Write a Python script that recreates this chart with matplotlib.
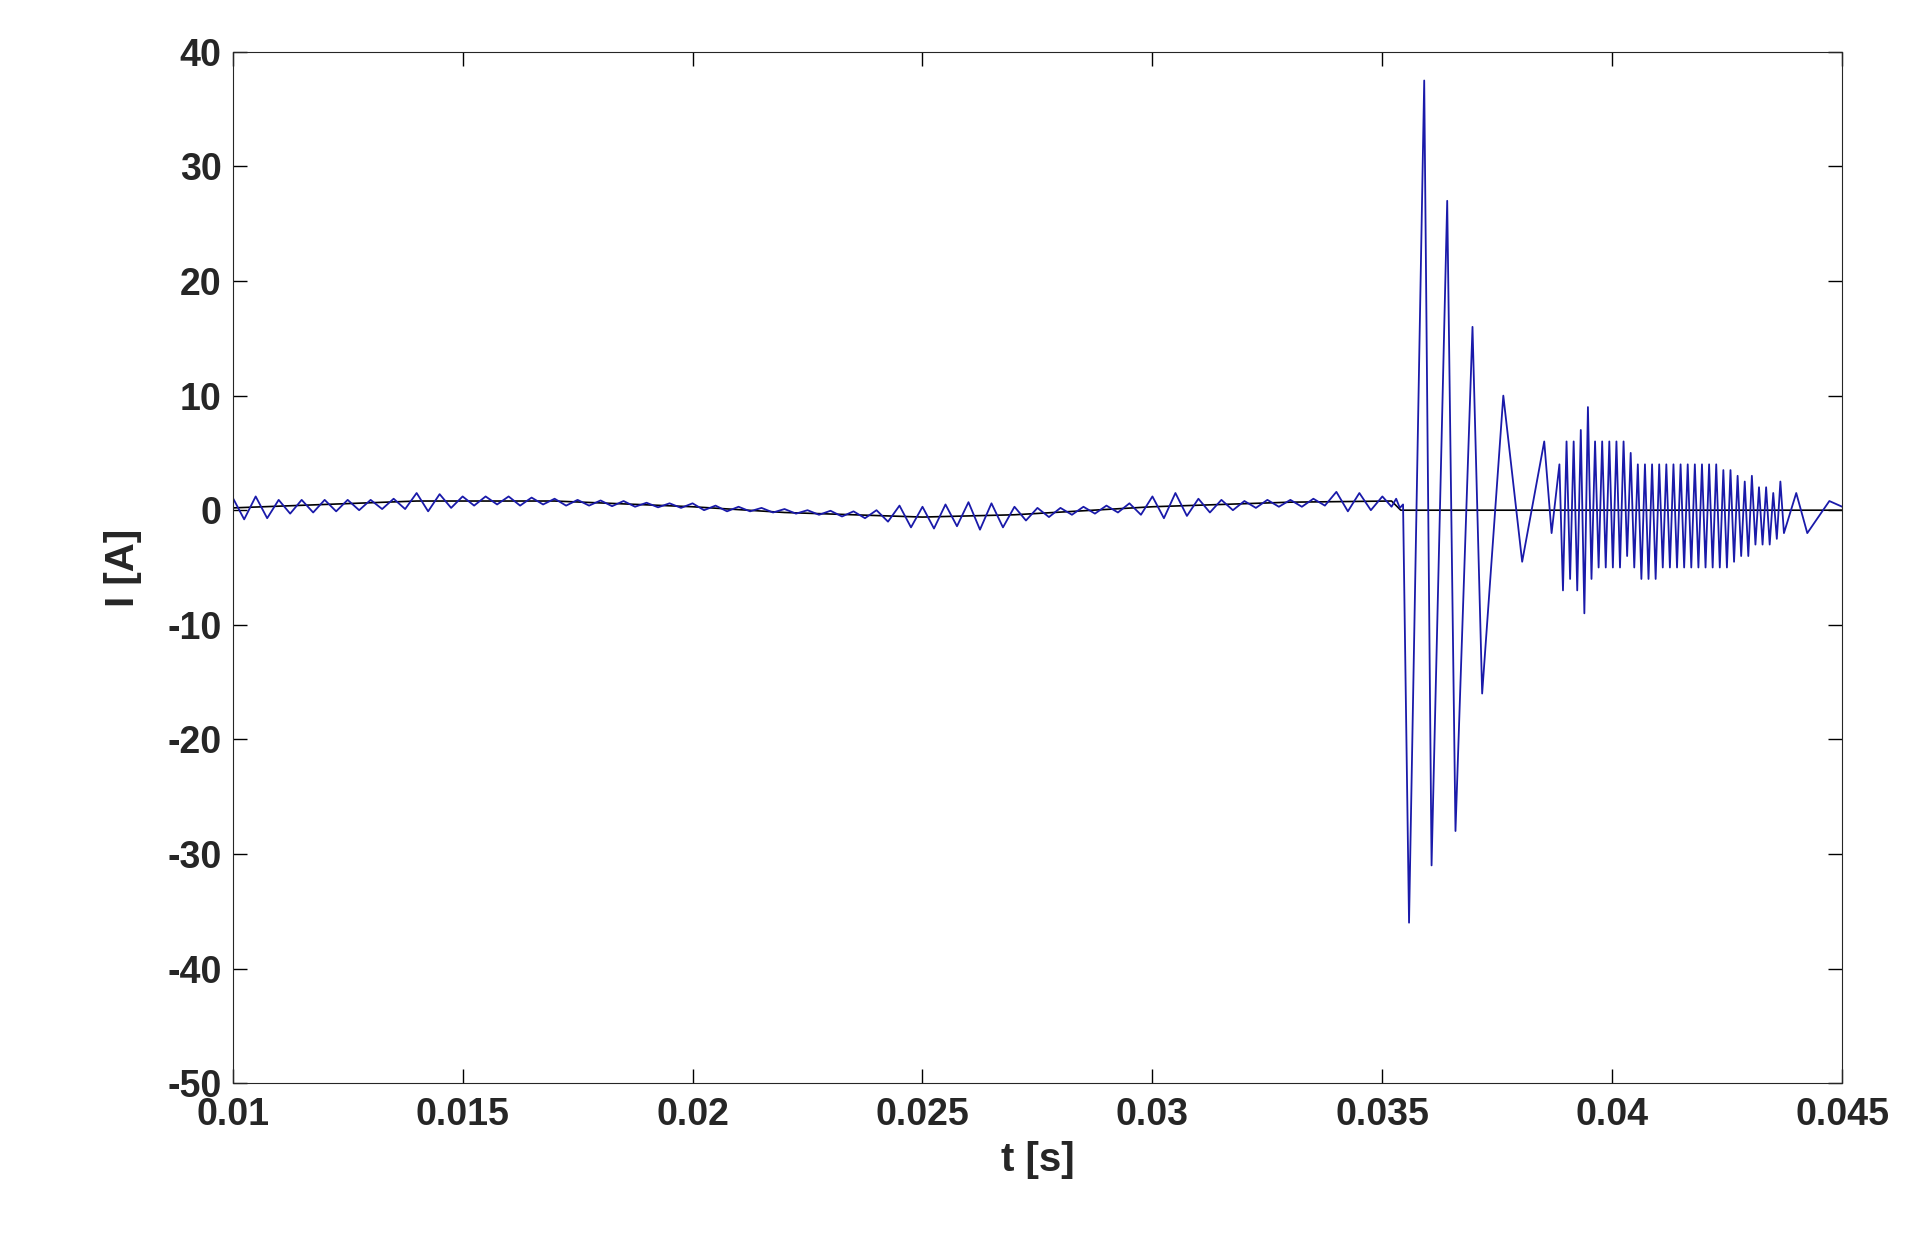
import numpy as np
import matplotlib
matplotlib.use("Agg")
import matplotlib.pyplot as plt

# early low-amplitude ripple, sampled every 0.25 ms from 0.010 s
early_t0, early_dt = 0.010, 0.00025
early_I = [1.1,-0.8,1.2,-0.7,0.9,-0.3,0.9,-0.2,0.9,-0.1,0.9,0.0,0.9,0.1,1.0,0.1,
           1.5,-0.1,1.4,0.2,1.2,0.4,1.2,0.5,1.2,0.4,1.1,0.5,1.0,0.4,0.9,0.4,
           0.85,0.35,0.8,0.3,0.65,0.25,0.6,0.2,0.6,0.0,0.4,-0.1,0.3,-0.1,0.2,-0.2,
           0.1,-0.3,0.0,-0.4,-0.05,-0.55,-0.1,-0.7,0.0,-1.0,0.4,-1.5,0.3,-1.6,0.5,-1.4,
           0.7,-1.7,0.6,-1.5,0.3,-0.9,0.2,-0.6,0.2,-0.4,0.3,-0.3,0.4,-0.2,0.6,-0.4,
           1.2,-0.7,1.5,-0.5,1.0,-0.2,0.9,0.0,0.8,0.2,0.9,0.3,0.9,0.3,1.0,0.4,
           1.6,-0.1,1.5,0.0]
pre_t = [0.0350,0.0352,0.03530,0.03538]
pre_I = [1.2,0.3,1.0,0.2]
# main transient extrema
tr_t = [0.03545,0.03558,0.03591,0.03607,0.03641,0.03659,0.03696,0.03717,0.03763,0.03804,0.03852,0.03868]
tr_I = [0.5,-36,37.5,-31,27,-28,16,-16,10,-4.5,6,-2]
# fast oscillation, half-period 0.077 ms from 0.03885 s
fast_t0, fast_dt = 0.03885, 0.0000775
fast_I = [4,-7,6,-6,6,-7,7,-9,9,-6,6,-5,6,-5,6,-5,6,-5,6,-4,5,
          -5,4,-6,4,-6,4,-6,4,-5,4,-5,4,-5,4,-5,4,-5,4,-5,4,-5,4,-5,4,-5,
          3.5,-5,3.5,-4.5,3,-4,2.5,-4,3,-3,2,-3,2,-3,1.5,-2.5,2.5,-2]
tail_t = [0.04400,0.04424,0.04472,0.04500]
tail_I = [1.5,-2.0,0.8,0.3]
# black baseline
base_t = [0.010,0.014,0.017,0.020,0.022,0.025,0.027,0.030,0.033,0.0352,0.0354,0.045]
base_I = [0.2,0.8,0.8,0.3,-0.2,-0.6,-0.4,0.3,0.7,0.8,0.0,0.0]

xticks = [0.01,0.015,0.02,0.025,0.03,0.035,0.04,0.045]
xlabels = ["0.01","0.015","0.02","0.025","0.03","0.035","0.04","0.045"]
yticks = [-50,-40,-30,-20,-10,0,10,20,30,40]
ylabels = ["-50","-40","-30","-20","-10","0","10","20","30","40"]

t = list(early_t0 + early_dt*np.arange(len(early_I))) + pre_t + tr_t + \
    list(fast_t0 + fast_dt*np.arange(len(fast_I))) + tail_t
I = early_I + pre_I + tr_I + fast_I + tail_I

plt.rcParams['font.family'] = ['Liberation Sans', 'DejaVu Sans']
fig = plt.figure(figsize=(19.23, 12.35), dpi=100)
ax = fig.add_axes([0.121, 0.123, 0.837, 0.835])
ax.plot(base_t, base_I, color='black', lw=1.2)
ax.plot(t, I, color='#1a1aaa', lw=1.3)
ax.set_xlim(0.01, 0.045)
ax.set_ylim(-50, 40)
ax.set_xticks(xticks, xlabels)
ax.set_yticks(yticks, ylabels)
ax.tick_params(direction='in', top=True, right=True, length=10, labelsize=27, width=1)
ax.tick_params(axis='x', pad=10)
ax.tick_params(axis='y', pad=8)
for lab in ax.get_xticklabels() + ax.get_yticklabels():
    lab.set_fontweight('bold'); lab.set_color('#262626')
ax.set_xlabel('t [s]', fontsize=29, fontweight='bold', color='#262626', labelpad=6)
ax.set_ylabel('I [A]', fontsize=29, fontweight='bold', color='#262626', labelpad=18)
for s in ax.spines.values():
    s.set_color('#262626')
fig.savefig('out.png', dpi=100)
